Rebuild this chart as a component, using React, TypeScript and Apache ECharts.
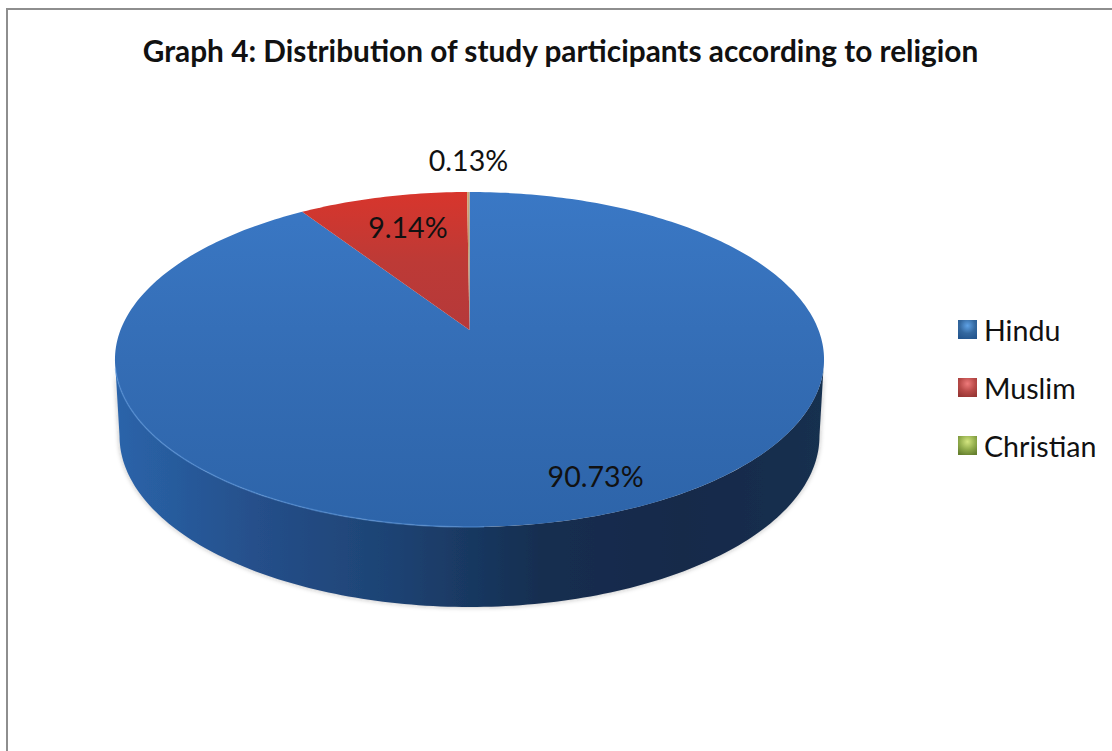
import React, { useEffect, useRef } from "react";
import * as echarts from "echarts";

const chartTitle = "Graph 4: Distribution of study participants according to religion";
const religions = ["Hindu", "Muslim", "Christian"];
const shares = [90.73, 9.14, 0.13];

const FONT = "Lato, 'Noto Sans', sans-serif";
const DEG = Math.PI / 180;

// Perspective disc: the pie plane is projected onto the page, so the hub sits
// above the middle of the visible ellipse and the far half looks compressed.
const HUB_X = 469.5;
const TILT = 0.176;
const FACES = [
  { hubY: 330, spanX: 349, spanY: 162.3 },
  { hubY: 406, spanX: 344.5, spanY: 165.6 },
];
const FRONT_FROM = 100.1;
const FRONT_TO = 259.9;

const project = (deg: number, face: number, radius = 1): number[] => {
  const f = FACES[face];
  const u = Math.sin(deg * DEG) * radius;
  const v = Math.cos(deg * DEG) * radius;
  const w = 1 + TILT * v;
  return [HUB_X + (f.spanX * u) / w, f.hubY - (f.spanY * v) / w];
};

const arc = (from: number, to: number, face: number): number[][] => {
  const steps = Math.max(2, Math.ceil(Math.abs(to - from)));
  const pts: number[][] = [];
  for (let i = 0; i <= steps; i++) pts.push(project(from + ((to - from) * i) / steps, face));
  return pts;
};

const vertical = (stops: string[]) =>
  new echarts.graphic.LinearGradient(
    0, 0, 0, 1,
    stops.map((color, i) => ({ offset: i / (stops.length - 1), color }))
  );
const horizontal = (stops: string[]) =>
  new echarts.graphic.LinearGradient(
    0, 0, 1, 0,
    stops.map((color, i) => ({ offset: i / (stops.length - 1), color }))
  );
const swatch = (glow: string, base: string, edge: string) =>
  new echarts.graphic.RadialGradient(0.5, 0.3, 0.75, [
    { offset: 0, color: glow },
    { offset: 0.55, color: base },
    { offset: 1, color: edge },
  ]);

const faceFills = [
  vertical(["#3a78c5", "#346db5", "#2d64a9"]),
  vertical(["#d8352c", "#bd3a36", "#b5393a"]),
  vertical(["#c9a778", "#b98a5c"]),
];
const wallFills = [
  horizontal(["#2a64aa", "#254f8a", "#1d4272", "#152e50", "#13294a", "#15304f"]),
  horizontal(["#8c2a28", "#7a2422"]),
  horizontal(["#76923c", "#5f7530"]),
];
const legendFills = [
  swatch("#5fa2e6", "#34689f", "#24568f"),
  swatch("#ee7a7a", "#b84a48", "#973634"),
  swatch("#d3e580", "#92ad4c", "#66802f"),
];

// Where each percentage sits: hub-relative polar position, then a nudge in pixels.
const labelPlaces = [
  { deg: 158.4, radius: 0.84, dx: 1, dy: -1 },
  { deg: 344.3, radius: 0.733, dx: 0, dy: -1 },
  { deg: 0, radius: 1, dx: -1, dy: -32 },
];

const startOf = (index: number) =>
  (shares.slice(0, index).reduce((a, b) => a + b, 0) / shares.reduce((a, b) => a + b, 0)) * 360;

const makeRenderItem = (index: number) => (_params: any, api: any) => {
  const sweep = (api.value(0) / shares.reduce((a, b) => a + b, 0)) * 360;
  const from = startOf(index);
  const to = from + sweep;
  const children: any[] = [];

  const wallFrom = Math.max(from, FRONT_FROM);
  const wallTo = Math.min(to, FRONT_TO);
  if (wallTo > wallFrom) {
    children.push({
      type: "polygon",
      shape: { points: [...arc(wallFrom, wallTo, 0), ...arc(wallTo, wallFrom, 1)] },
      style: {
        fill: wallFills[index],
        shadowBlur: 5,
        shadowColor: "rgba(40,40,40,0.35)",
      },
    });
  }

  children.push({
    type: "polygon",
    shape: { points: [project(0, 0, 0), ...arc(from, to, 0)] },
    style: { fill: faceFills[index] },
  });

  if (wallTo > wallFrom) {
    // Soft light catching the near-left rim of the disc.
    children.push({
      type: "polyline",
      shape: { points: arc(Math.max(wallFrom, 178), wallTo - 3, 0) },
      style: { stroke: "rgba(96,156,226,0.5)", lineWidth: 1.6, fill: "none" },
    });
  }

  const place = labelPlaces[index];
  const [lx, ly] = project(place.deg, 0, place.radius);
  children.push({
    type: "text",
    style: {
      text: `${api.value(0).toFixed(2)}%`,
      x: lx + place.dx,
      y: ly + place.dy,
      align: "center",
      verticalAlign: "middle",
      fill: "#111111",
      font: `28.6px ${FONT}`,
    },
  });

  return { type: "group", children };
};

export default function App() {
  const ref = useRef<HTMLDivElement>(null);

  useEffect(() => {
    const chart = echarts.init(ref.current!, null, { renderer: "svg" });
    chart.setOption({
      animation: false,
      backgroundColor: "#ffffff",
      title: {
        text: chartTitle,
        left: 555.5,
        top: 30,
        textAlign: "center",
        textStyle: { fontFamily: FONT, fontWeight: "bold", fontSize: 29.8, color: "#111111" },
      },
      legend: {
        orient: "vertical",
        left: 958,
        top: 315,
        padding: 0,
        icon: "rect",
        itemWidth: 19,
        itemHeight: 19,
        itemGap: 29,
        selectedMode: false,
        data: religions.map((name, i) => ({ name, itemStyle: { color: legendFills[i] } })),
        textStyle: { fontFamily: FONT, fontSize: 28.6, color: "#111111", padding: [0, 0, 0, 2] },
      },
      graphic: [
        {
          type: "polyline",
          shape: { points: [[7, 751], [7, 9], [1112, 9]] },
          style: { stroke: "#8e8e8e", lineWidth: 2, fill: "none" },
          silent: true,
        },
      ],
      series: religions.map((name, i) => ({
        type: "custom",
        name,
        coordinateSystem: "none",
        itemStyle: { color: legendFills[i] },
        data: [[shares[i]]],
        renderItem: makeRenderItem(i),
      })),
    });
    return () => chart.dispose();
  }, []);

  return (
    <div
      ref={ref}
      style={{ position: "absolute", left: 0, top: 0, width: 1112, height: 751 }}
    />
  );
}
